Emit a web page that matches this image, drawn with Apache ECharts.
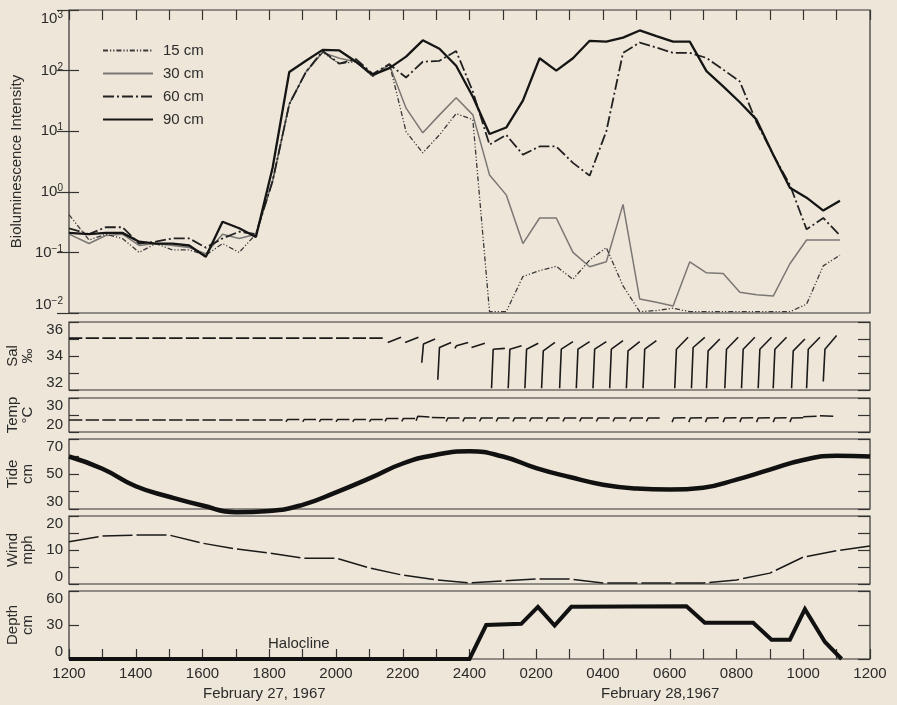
<!DOCTYPE html>
<html><head><meta charset="utf-8">
<script src="https://cdn.jsdelivr.net/npm/echarts@6/dist/echarts.min.js"></script>
<style>html,body{margin:0;padding:0;background:#eee6d8;}#c{width:897px;height:705px;}</style>
</head><body><div id="c"></div>
<script>
// ---------- DATA ----------
// time in hours after 1200 on Feb 27 (0 = 1200, 12 = 2400, 24 = 1200 Feb 28)
const xTickLabels = ['1200','1400','1600','1800','2000','2200','2400','0200','0400','0600','0800','1000','1200'];
const times = [0,0.6,1.1,1.6,2.1,2.6,3.1,3.6,4.1,4.6,5.1,5.6,6.1,6.6,7.1,7.6,8.1,8.6,9.1,9.6,10.1,10.6,11.1,11.6,12.1,12.6,13.1,13.6,14.1,14.6,15.1,15.6,16.1,16.6,17.1,17.6,18.1,18.6,19.1,19.6,20.1,20.6,21.1,21.6,22.1,22.6,23.1];
const bio15 = [0.42,0.16,0.2,0.17,0.1,0.14,0.11,0.11,0.09,0.14,0.1,0.2, 1.5,28,95,200,130,140,80,130, 9.8,4.4,8.7,19.5,15.5,0.0105,0.0105,0.04,0.05,0.059,0.036,0.075,0.12,0.028,0.0105,0.011,0.012,0.0105,0.0105,0.0105,0.0105,0.0105,0.0105,0.0105,0.014,0.06,0.09];
const bio30 = [0.2,0.14,0.19,0.2,0.13,0.14,0.13,0.12,0.095,0.2,0.17,0.2, 1.5,28,95,200,160,140,80,125, 24,9.4,18.6,35.7,18.6,1.9,0.89,0.14,0.37,0.37,0.1,0.058,0.07,0.62,0.017,0.015,0.013,0.07,0.046,0.045,0.022,0.02,0.019,0.065,0.16,0.16,0.16];
const bio60 = [0.25,0.2,0.26,0.26,0.14,0.15,0.17,0.17,0.12,0.17,0.22,0.2, 1.5,28,95,210,130,155,88,127, 77,140,145,210,45,6,8.7,4.1,5.6,5.6,3,1.85,10,196,290,240,196,196,162,104,66,14,4.1,1.3,0.24,0.37,0.19];
const bio90 = [0.21,0.2,0.21,0.21,0.15,0.14,0.14,0.13,0.085,0.32,0.25,0.18, 2.5,95,145,220,215,140,85,110, 170,316,230,120,37,9,11.5,32,160,100,160,310,300,350,460,370,300,300,98,55,30,15.5,4.1,1.17,0.8,0.49,0.71];

// salinity recorder traces: start time, low value, value at top of stroke, value at end of stroke
const salStart = [0,0.5,1,1.5,2,2.5,3,3.5,4,4.5,5,5.5,6,6.5,7,7.5,8,8.5,9,9.55,10.07,10.57,11.05,11.56,12.06,12.66,13.16,13.66,14.16,14.7,15.2,15.7,16.2,16.7,17.2,18.15,18.65,19.1,19.65,20.15,20.65,21.1,21.65,22.1,22.6];
const salLow = [35.05,35.05,35.05,35.05,35.05,35.05,35.05,35.05,35.05,35.05,35.05,35.05,35.05,35.05,35.05,35.05,35.05,35.05,35.05,34.8,34.8,33.6,32.6,34.45,34.5,32.1,32.1,32.1,32.1,32.1,32.1,32.1,32.1,32.1,32.1,32.1,32.1,32.1,32.1,32.1,32.1,32.1,32.1,32.1,32.5];
const salTop = [35.05,35.05,35.05,35.05,35.05,35.05,35.05,35.05,35.05,35.05,35.05,35.05,35.05,35.05,35.05,35.05,35.05,35.05,35.05,34.8,34.8,34.7,34.5,34.6,34.55,34.4,34.4,34.4,34.3,34.4,34.4,34.4,34.4,34.3,34.4,34.4,34.5,34.3,34.4,34.4,34.4,34.4,34.3,34.4,34.4];
const salEnd = [35.05,35.05,35.05,35.05,35.05,35.05,35.05,35.05,35.05,35.05,35.05,35.05,35.05,35.05,35.05,35.05,35.05,35.05,35.05,35.1,35.1,35.0,34.8,34.8,34.75,34.45,34.6,34.75,34.8,34.85,34.85,34.85,34.9,34.85,34.9,35.1,35.1,35.0,35.1,35.1,35.1,35.1,35.0,35.1,35.2];

// temperature recorder traces
const tempStart = [0,0.5,1,1.5,2,2.5,3,3.5,4,4.5,5,5.5,6,6.5,7,7.5,8,8.5,9,9.47,9.97,10.4,10.87,11.3,11.8,12.3,12.8,13.3,13.8,14.3,14.8,15.3,15.8,16.3,16.8,17.3,18.07,18.57,19.07,19.6,20.1,20.6,21.1,21.6,22.0,22.5];
const tempLow = [23.5,23.5,23.5,23.5,23.5,23.5,23.5,23.5,23.5,23.5,23.5,23.5,23.5,23.0,23.0,23.0,23.0,23.0,23.0,23.1,23.1,23.3,24.3,23.1,23.1,23.1,23.1,23.1,23.1,23.1,23.1,23.1,23.1,23.1,23.1,23.1,22.9,22.9,22.9,22.9,22.9,22.9,22.9,22.9,24.5,24.8];
const tempTop = [23.5,23.5,23.5,23.5,23.5,23.5,23.5,23.5,23.5,23.5,23.5,23.5,23.5,23.7,23.7,23.7,23.7,23.7,23.7,24.0,24.0,24.6,24.8,24.1,24.1,24.1,24.1,24.1,24.1,24.1,24.1,24.1,24.1,24.1,24.1,24.1,24.1,24.1,24.1,24.1,24.1,24.1,24.1,24.1,25.0,25.2];
const tempEnd = [23.5,23.5,23.5,23.5,23.5,23.5,23.5,23.5,23.5,23.5,23.5,23.5,23.5,23.7,23.7,23.7,23.7,23.7,23.7,24.0,24.0,24.4,24.2,24.1,24.1,24.1,24.1,24.1,24.1,24.1,24.1,24.1,24.1,24.1,24.1,24.1,24.2,24.2,24.2,24.2,24.2,24.2,24.2,24.2,24.6,24.6];

const hourly = [0,1,2,3,4,5,6,7,8,9,10,11,12,13,14,15,16,17,18,19,20,21,22,23,24];
const tide = [60,53,43,37,32,28.2,28.9,32.4,39.5,47.5,56,61,63,60,53.4,48.3,43.9,41.7,41.1,42.2,46.8,52.5,58,60.5,60];
const wind = [12.4,14.1,14.4,14.4,12,10.3,9.1,7.6,7.6,4.7,2.6,1.2,0.3,0.9,1.5,1.5,0.3,0.3,0.3,0.3,1.2,3.2,7.9,9.8,11.2];

const depthT = [0,12,12.5,13.55,14.05,14.55,15.05,18.5,19.05,20.5,21.05,21.6,22.05,22.65,23.15];
const depthV = [0,0,30,31,46,29.5,46,46.5,32,32,17,17,44,15,0];

// ---------- BUILD ----------
const FONT = '"Liberation Sans", Arial, sans-serif';
const TXT = '#2b2b2b';
function pairs(xs, ys){ return xs.map((x,i)=>[x, ys[i]]); }
function traces(st, lo, tp, en){
  const out=[];
  st.forEach((t,i)=>{ out.push([t,lo[i]]); out.push([t+0.05,tp[i]]); out.push([t+0.4,en[i]]); out.push([t+0.41,'-']); });
  return out;
}
const L=69, R=27;
const panels = [
  {top:10,height:303},{top:322,height:68},{top:398,height:34},
  {top:439,height:70},{top:516,height:68},{top:591,height:68}
];
const grid = panels.map(p=>({left:L,right:R,top:p.top,height:p.height,show:true,borderColor:'#333',borderWidth:1.2,
  backgroundColor:'transparent',containLabel:false,outerBoundsMode:'none'}));

const xAxis = panels.map((p,i)=>({
  gridIndex:i,type:'value',min:0,max:24,interval:1,
  axisLine:{show:false},splitLine:{show:false},
  axisTick:{show:i===5,inside:true,length:10,lineStyle:{color:'#333',width:1.2}},
  axisLabel:{show:i===5,showMinLabel:true,showMaxLabel:true,margin:7,color:TXT,fontSize:15,fontFamily:FONT,
    formatter:v=> (v%2===0)? xTickLabels[v/2] : ''}
}));
xAxis.push({gridIndex:0,type:'value',position:'top',min:0,max:24,interval:1,axisLine:{show:false},splitLine:{show:false},
  axisTick:{show:true,inside:true,length:10,lineStyle:{color:'#333',width:1.2}},axisLabel:{show:false}});

const yDefs = [
  {type:'log',min:0.01,max:1000,logBase:10,name:'Bioluminescence Intensity',gap:43,
    fmt:v=>{const e=Math.round(Math.log10(v));return '10{s|'+(e<0?'\u2212'+(-e):e)+'}';}},
  {type:'value',min:32,max:36,interval:1,name:'Sal\n\u2030',gap:33,fmt:v=>(v%2===0?String(v):'')},
  {type:'value',min:20,max:30,interval:5,name:'Temp\n\u00b0C',gap:33,fmt:v=>(v===25?'':String(v))},
  {type:'value',min:30,max:70,interval:10,name:'Tide\ncm',gap:29,fmt:v=>(v%20===10?String(v):'')},
  {type:'value',min:0,max:20,interval:5,name:'Wind\nmph',gap:29,fmt:v=>(v%10===0?String(v):'')},
  {type:'value',min:0,max:60,interval:30,name:'Depth\ncm',gap:29,fmt:v=>String(v)}
];
const yAxis=[];
yDefs.forEach((d,i)=>{
  const base={gridIndex:i,type:d.type,min:d.min,max:d.max,axisLine:{show:false},splitLine:{show:false}};
  if(d.interval) base.interval=d.interval;
  if(d.logBase) base.logBase=d.logBase;
  yAxis.push(Object.assign({},base,{position:'left',name:d.name,nameLocation:'middle',nameGap:d.gap,nameRotate:90,
    nameTextStyle:{color:TXT,fontSize:15,fontFamily:FONT,lineHeight:15},
    axisTick:{show:true,inside:true,length:10,lineStyle:{color:'#333',width:1.2}},
    axisLabel:{color:TXT,fontSize:15,fontFamily:FONT,margin:6,showMinLabel:true,showMaxLabel:true,
      verticalAlignMinLabel:'bottom',verticalAlignMaxLabel:'top',
      formatter:d.fmt,rich:{s:{fontSize:10,verticalAlign:'top',fontFamily:FONT,color:TXT,padding:[0,0,7,0]}}}}));
  yAxis.push(Object.assign({},base,{position:'right',
    axisTick:{show:true,inside:true,length:12,lineStyle:{color:'#333',width:1.2}},axisLabel:{show:false}}));
});

const lineBase={type:'line',showSymbol:false,symbol:'none',animation:false,xAxisIndex:0,yAxisIndex:0};
const series=[
  Object.assign({},lineBase,{name:'15 cm',data:pairs(times,bio15),z:3,itemStyle:{color:'#3a3a3a'},lineStyle:{color:'#3a3a3a',width:1.3,type:[5,2,1.2,2,1.2,2]}}),
  Object.assign({},lineBase,{name:'30 cm',data:pairs(times,bio30),z:2,itemStyle:{color:'#7a7774'},lineStyle:{color:'#7a7774',width:1.5,type:'solid'}}),
  Object.assign({},lineBase,{name:'60 cm',data:pairs(times,bio60),z:4,itemStyle:{color:'#222'},lineStyle:{color:'#222',width:1.8,type:[11,3,2,3]}}),
  Object.assign({},lineBase,{name:'90 cm',data:pairs(times,bio90),z:5,itemStyle:{color:'#151515'},lineStyle:{color:'#151515',width:2.3,type:'solid'}}),
  {type:'line',xAxisIndex:1,yAxisIndex:2,showSymbol:false,symbol:'none',animation:false,connectNulls:false,
    data:traces(salStart,salLow,salTop,salEnd),lineStyle:{color:'#1a1a1a',width:1.6}},
  {type:'line',xAxisIndex:2,yAxisIndex:4,showSymbol:false,symbol:'none',animation:false,connectNulls:false,
    data:traces(tempStart,tempLow,tempTop,tempEnd),lineStyle:{color:'#1a1a1a',width:1.5}},
  {type:'line',xAxisIndex:3,yAxisIndex:6,showSymbol:false,symbol:'none',animation:false,smooth:0.5,clip:false,
    data:pairs(hourly,tide),lineStyle:{color:'#111',width:4.5}},
  {type:'line',xAxisIndex:4,yAxisIndex:8,showSymbol:false,symbol:'none',animation:false,clip:false,
    data:pairs(hourly,wind),lineStyle:{color:'#1a1a1a',width:1.5,type:[30,4]}},
  {type:'line',xAxisIndex:5,yAxisIndex:10,showSymbol:false,symbol:'none',animation:false,clip:false,
    data:pairs(depthT,depthV),lineStyle:{color:'#111',width:4,join:'miter'}}
];

const chart=echarts.init(document.getElementById('c'),null,{renderer:'canvas'});
chart.setOption({
  backgroundColor:'#eee6d8',animation:false,
  textStyle:{fontFamily:FONT},
  grid,xAxis,yAxis,series,
  legend:{data:['15 cm','30 cm','60 cm','90 cm'],orient:'vertical',left:97,top:38,itemWidth:50,itemHeight:14,itemGap:8,
    itemStyle:{opacity:0},
    textStyle:{color:TXT,fontSize:15,fontFamily:FONT,padding:[0,0,0,5]}},
  graphic:[
    {type:'text',left:268,top:636,style:{text:'Halocline',font:'15px '+FONT,fill:TXT}},
    {type:'text',left:203,top:686,style:{text:'February 27, 1967',font:'15px '+FONT,fill:TXT}},
    {type:'text',left:601,top:686,style:{text:'February 28,1967',font:'15px '+FONT,fill:TXT}}
  ]
});
</script></body></html>
